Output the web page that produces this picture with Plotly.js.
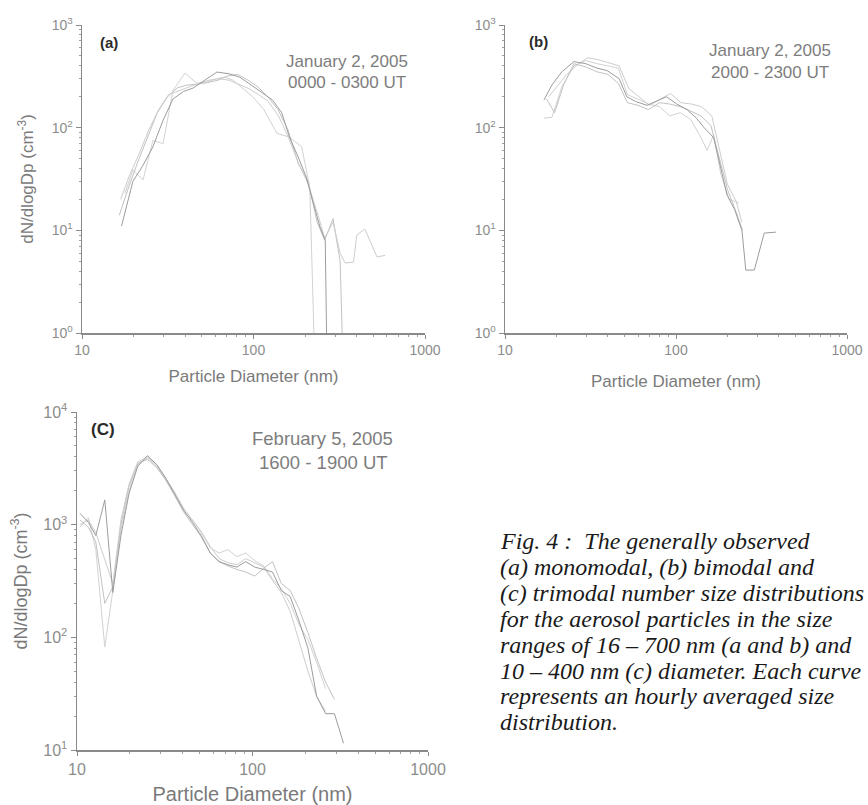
<!DOCTYPE html>
<html><head><meta charset="utf-8">
<script src="https://cdn.plot.ly/plotly-3.0.1.min.js"></script>
<style>html,body{margin:0;padding:0;background:#fff;}#chart{width:868px;height:805px;}</style>
</head><body><div id="chart"></div>
<script>
// ---------- data ----------
// panel (a): January 2, 2005, 0000 - 0300 UT
const aX1 = [17, 19.8, 22.5, 25.9, 29.7, 33.9, 39, 44.4, 52, 61.2, 72, 83.3, 97, 113, 129, 146, 162, 182, 203, 224, 244, 262, 272];
const aY1 = [11, 30, 42, 65, 118, 190, 225, 243, 290, 348, 335, 310, 260, 215, 186, 140, 81, 52, 33, 18, 10.8, 8, 0.1];
const aX2 = [17.8, 19.8, 22.7, 25.9, 29.7, 33.9, 39.9, 46.8, 54, 61, 68, 76, 87, 99, 115, 137, 162, 191, 213, 234];
const aY2 = [23, 38.6, 31, 75, 70, 230, 340, 270, 280, 300, 310, 290, 240, 200, 150, 88, 81, 65, 26, 0.1];
const aX3 = [16.5, 18.5, 21, 24, 27.5, 31.5, 36, 41, 47, 54, 62, 71, 81, 93, 106, 121, 139, 159, 182, 208, 235, 260, 291, 320, 342];
const aY3 = [14, 25, 45, 80, 140, 200, 245, 260, 265, 275, 290, 320, 330, 290, 250, 200, 150, 95, 45, 30, 12, 8, 13, 5, 0.1];
const aX4 = [16.8, 19, 21.5, 24.5, 28, 32, 37, 42, 48, 55, 63, 72, 82, 94, 107, 122, 140, 160, 183, 209, 238, 260, 291, 320, 342, 383, 400, 446, 525, 585];
const aY4 = [20, 35, 55, 95, 150, 210, 230, 250, 270, 290, 300, 290, 265, 240, 210, 180, 130, 80, 45, 28, 14, 8.4, 12, 6, 4.8, 4.9, 9, 10.3, 5.5, 5.7];

// panel (b): January 2, 2005, 2000 - 2300 UT
const bX1 = [16.9, 18.8, 21.5, 25.3, 29.7, 34.5, 39.5, 46.5, 51.6, 58, 67.7, 77, 88, 101, 116, 131, 146, 166, 183, 199, 220, 243, 256, 287, 328, 384];
const bY1 = [186, 260, 350, 440, 420, 380, 360, 300, 200, 180, 165, 180, 200, 170, 150, 125, 100, 80, 40, 22, 16, 10, 4.1, 4.1, 9.4, 9.6];
const bX2 = [16.9, 18.8, 21.5, 25.3, 29.7, 34.5, 40, 46, 52, 60, 69, 80, 92, 106, 122, 140, 152, 166, 183, 205, 233];
const bY2 = [124, 126, 250, 400, 450, 420, 400, 380, 210, 190, 170, 160, 130, 140, 120, 80, 60, 85, 35, 20, 18.5];
const bX3 = [17.5, 19.5, 22, 25.3, 29.7, 34.5, 40, 46, 52, 60, 69, 80, 92, 106, 122, 140, 160, 180, 200, 225, 245];
const bY3 = [190, 140, 260, 420, 390, 350, 330, 270, 175, 165, 150, 175, 170, 160, 145, 130, 105, 50, 25, 15, 10];
const bX4 = [18, 20, 23, 26.5, 30.5, 35, 40.5, 46.5, 53, 61, 70, 81, 93, 107, 123, 141, 162, 180, 200, 225, 243];
const bY4 = [200, 250, 330, 410, 480, 460, 430, 400, 240, 200, 165, 190, 215, 175, 170, 160, 130, 60, 28, 19, 12];

// panel (c): February 5, 2005, 1600 - 1900 UT
const cX = [10.4, 11.6, 12.8, 14.4, 16.0, 17.8, 19.8, 22.2, 25.2, 28.5, 32, 36, 40.5, 45.5, 51, 57.5, 64.5, 72.5, 81.5, 91.5, 103, 116, 130, 146, 164, 184, 207, 232, 261, 293, 330];
const cY1 = [1260, 1050, 800, 1660, 250, 800, 1900, 3300, 4100, 3400, 2600, 1900, 1350, 1050, 800, 560, 470, 440, 420, 470, 420, 400, 380, 260, 230, 140, 80, 30, 21, 21, 11.5];
const cY2 = [950, 1150, 600, 82, 260, 900, 2000, 3400, 3900, 3300, 2500, 1800, 1300, 1100, 850, 620, 560, 600, 520, 560, 480, 430, 330, 270, 200, 130, 95, 60, 35];
const cY3 = [1100, 950, 700, 200, 280, 1000, 2200, 3500, 3800, 3200, 2500, 1850, 1300, 1000, 780, 560, 470, 430, 400, 380, 350, 410, 470, 300, 260, 180, 110, 65, 40, 28];
const cY4 = [1000, 1100, 850, 500, 300, 1100, 2300, 3600, 4000, 3400, 2600, 1950, 1400, 1100, 870, 640, 500, 460, 440, 500, 460, 420, 320, 250, 170, 95, 50, 30, 22];

// tick labels and texts
const xTickVals = [10, 100, 1000];
const xTickText = ['10', '100', '1000'];
const yTickValsAB = [1, 10, 100, 1000];
const yTickTextAB = ['10<sup>0</sup>', '10<sup>1</sup>', '10<sup>2</sup>', '10<sup>3</sup>'];
const yTickValsC = [10, 100, 1000, 10000];
const yTickTextC = ['10<sup>1</sup>', '10<sup>2</sup>', '10<sup>3</sup>', '10<sup>4</sup>'];
const xTitle = 'Particle Diameter (nm)';
const yTitle = 'dN/dlogDp (cm<sup>-3</sup>)';
const panelLabels = ['(a)', '(b)', '(C)'];
const dateLines = [['January 2, 2005', '0000 - 0300 UT'], ['January 2, 2005', '2000 - 2300 UT'], ['February 5, 2005', '1600 - 1900 UT']];
const captionLines = [
  'Fig. 4 :  The generally observed',
  '(a) monomodal, (b) bimodal and',
  '(c) trimodal number size distributions',
  'for the aerosol particles in the size',
  'ranges of 16 \u2013 700 nm (a and b) and',
  '10 \u2013 400 nm (c) diameter. Each curve',
  'represents an hourly averaged size',
  'distribution.'
];

// ---------- helpers ----------
const W = 868, H = 805;
const PX = x => x / W;
const PY = y => 1 - y / H;
const SANS = 'Liberation Sans, Arial, sans-serif';
const SERIF = 'Liberation Serif, Times New Roman, serif';
const lineColors = ['#9c9c9c', '#d2d2d2', '#c2c2c2', '#cdcdcd'];

function minorVals(lo, hi) {
  const v = [];
  for (let d = lo; d < hi; d++) for (let k = 2; k <= 9; k++) v.push(k * Math.pow(10, d));
  return v;
}

function tr(x, y, i, xa, ya) {
  return {x: x.slice(0, y.length), y: y, type: 'scatter', mode: 'lines', xaxis: xa, yaxis: ya,
    line: {color: lineColors[i], width: 1}, hoverinfo: 'skip', showlegend: false};
}

const traces = [
  tr(aX2, aY2, 1, 'x', 'y'), tr(aX3, aY3, 2, 'x', 'y'), tr(aX4, aY4, 3, 'x', 'y'), tr(aX1, aY1, 0, 'x', 'y'),
  tr(bX2, bY2, 1, 'x2', 'y2'), tr(bX3, bY3, 2, 'x2', 'y2'), tr(bX4, bY4, 3, 'x2', 'y2'), tr(bX1, bY1, 0, 'x2', 'y2'),
  tr(cX, cY2, 1, 'x3', 'y3'), tr(cX, cY3, 2, 'x3', 'y3'), tr(cX, cY4, 3, 'x3', 'y3'), tr(cX, cY1, 0, 'x3', 'y3')
];

function xAxis(dom, anchor, fs, tfs, standoff) {
  return {type: 'log', domain: dom, range: [1, 3], anchor: anchor,
    showline: true, linecolor: '#8a8a8a', linewidth: 1.5, mirror: false,
    showgrid: false, zeroline: false,
    tickmode: 'array', tickvals: xTickVals, ticktext: xTickText,
    ticks: 'outside', ticklen: 4, tickwidth: 1, tickcolor: '#8a8a8a',
    tickfont: {family: SANS, size: fs, color: '#8c8c8c'},
    minor: {tickvals: minorVals(1, 3), ticks: 'outside', ticklen: 2, tickcolor: '#a0a0a0', showgrid: false},
    title: {text: xTitle, font: {family: SANS, size: tfs, color: '#7a7a7a'}, standoff: standoff},
    automargin: false, fixedrange: true};
}
function yAxis(dom, anchor, range, vals, text, fs, withTitle, tfs, standoff) {
  const a = {type: 'log', domain: dom, range: range, anchor: anchor,
    showline: true, linecolor: '#8a8a8a', linewidth: 1.5,
    showgrid: false, zeroline: false,
    tickmode: 'array', tickvals: vals, ticktext: text,
    ticks: 'outside', ticklen: 5, tickwidth: 1, tickcolor: '#8a8a8a',
    tickfont: {family: SANS, size: fs, color: '#8c8c8c'},
    minor: {tickvals: minorVals(range[0], range[1]), ticks: 'outside', ticklen: 2, tickcolor: '#a0a0a0', showgrid: false},
    automargin: false, fixedrange: true};
  if (withTitle) a.title = {text: yTitle, font: {family: SANS, size: tfs, color: '#7a7a7a'}, standoff: standoff};
  return a;
}

const annotations = [];
function note(text, x, y, size, color, bold, xanchor) {
  annotations.push({text: bold ? '<b>' + text + '</b>' : text, x: PX(x), y: PY(y), xref: 'paper', yref: 'paper',
    showarrow: false, xanchor: xanchor || 'center', yanchor: 'middle',
    font: {family: SANS, size: size, color: color}});
}
note(panelLabels[0], 109, 42, 15, '#2a2a2a', true);
note(dateLines[0][0], 347, 62, 17, '#7d7d7d');
note(dateLines[0][1], 347, 82, 17, '#7d7d7d');
note(panelLabels[1], 538, 41, 15, '#2a2a2a', true);
note(dateLines[1][0], 770, 50, 17, '#7d7d7d');
note(dateLines[1][1], 770, 72, 17, '#7d7d7d');
note(panelLabels[2], 103, 429, 17, '#2a2a2a', true);
note(dateLines[2][0], 322, 438, 18.5, '#7d7d7d');
note(dateLines[2][1], 323, 462, 18.5, '#7d7d7d');

captionLines.forEach((t, i) => {
  annotations.push({text: '<i>' + t + '</i>', x: PX(498), y: PY(541 + i * 25.9), xref: 'paper', yref: 'paper',
    showarrow: false, xanchor: 'left', yanchor: 'middle',
    font: {family: SERIF, size: 24, color: '#1a1a1a'}});
});

const layout = {
  width: W, height: H, margin: {l: 0, r: 0, t: 0, b: 0},
  paper_bgcolor: '#ffffff', plot_bgcolor: 'rgba(0,0,0,0)', showlegend: false,
  xaxis: xAxis([PX(82), PX(425)], 'y', 14, 17, 13),
  yaxis: yAxis([PY(333), PY(25)], 'x', [0, 3], yTickValsAB, yTickTextAB, 14, true, 17, 13),
  xaxis2: xAxis([PX(505), PX(847)], 'y2', 14, 17, 18),
  yaxis2: yAxis([PY(333), PY(25)], 'x2', [0, 3], yTickValsAB, yTickTextAB, 14, false),
  xaxis3: xAxis([PX(77), PX(428)], 'y3', 16, 20, 11),
  yaxis3: yAxis([PY(750), PY(412)], 'x3', [1, 4], yTickValsC, yTickTextC, 16, true, 18, 11),
  annotations: annotations
};

Plotly.newPlot('chart', traces, layout, {displayModeBar: false, staticPlot: true});
</script></body></html>
